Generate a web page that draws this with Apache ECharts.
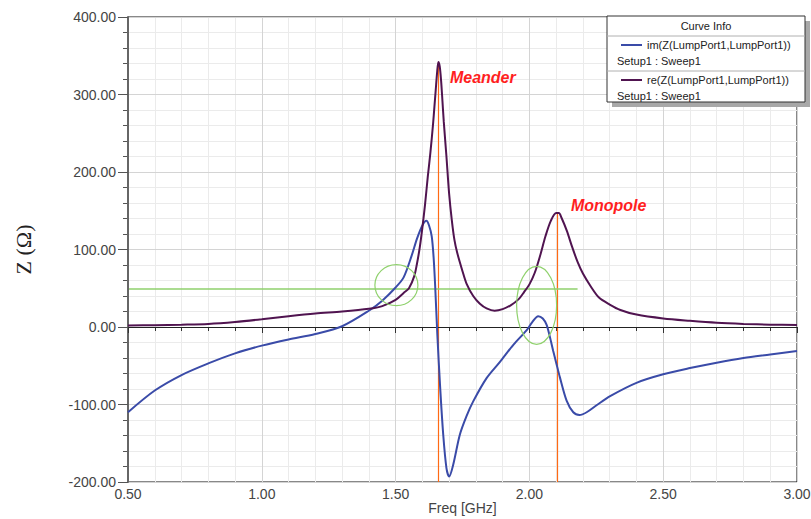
<!DOCTYPE html>
<html>
<head>
<meta charset="utf-8">
<script src="https://cdn.jsdelivr.net/npm/echarts@6/dist/echarts.min.js"></script>
<style>
  html, body { margin: 0; padding: 0; background: #fff; overflow: hidden; }
  #chart { width: 811px; height: 519px; }
</style>
</head>
<body>
<div id="chart"></div>
<script type="text/javascript">
// re(Z) - purple curve
var reFreq = [0.50, 0.60, 0.70, 0.80, 0.90, 1.00, 1.10, 1.20, 1.30, 1.40, 1.45, 1.50, 1.53, 1.55, 1.57, 1.58, 1.59, 1.60, 1.61, 1.62, 1.63, 1.64, 1.645, 1.65, 1.655, 1.66, 1.665, 1.67, 1.675, 1.68, 1.69, 1.70, 1.71, 1.72, 1.73, 1.75, 1.765, 1.79, 1.815, 1.84, 1.87, 1.90, 1.93, 1.96, 1.98, 2.00, 2.02, 2.04, 2.06, 2.08, 2.10, 2.11, 2.12, 2.14, 2.16, 2.18, 2.20, 2.23, 2.26, 2.30, 2.34, 2.40, 2.50, 2.60, 2.70, 2.80, 2.90, 3.00];
var reZ = [2, 2.3, 3, 4, 6.5, 10, 14, 17.5, 20, 23.5, 27, 35, 44, 50, 66, 82, 102, 128, 158, 193, 225, 262, 284, 306, 328, 342, 336, 318, 292, 265, 220, 172, 138, 112, 96, 72, 56, 40, 30, 24, 21, 23, 28, 36, 45, 55, 70, 92, 117, 137, 147, 147, 141, 124, 103, 84, 69, 52, 38, 29, 22, 16, 11, 8, 5.5, 4, 3, 2.5];

// im(Z) - blue curve
var imFreq = [0.50, 0.60, 0.70, 0.80, 0.90, 1.00, 1.10, 1.20, 1.30, 1.40, 1.45, 1.50, 1.53, 1.56, 1.58, 1.60, 1.615, 1.625, 1.635, 1.642, 1.648, 1.656, 1.666, 1.678, 1.690, 1.700, 1.715, 1.740, 1.765, 1.790, 1.840, 1.890, 1.940, 1.990, 2.010, 2.033, 2.050, 2.064, 2.076, 2.089, 2.100, 2.114, 2.139, 2.164, 2.187, 2.214, 2.251, 2.30, 2.40, 2.50, 2.60, 2.70, 2.80, 2.90, 3.00];
var imZ = [-110, -82, -62, -47, -34, -24, -16, -9, 1, 21, 34, 51, 64, 92, 114, 131, 137, 131, 117, 90, 52, -10, -75, -139, -182, -193, -178, -139, -115, -96, -66, -45, -23, -4, 6, 14, 11, 3, -12, -31, -46, -65, -95, -110, -113.5, -110, -101, -89.5, -72, -61, -53, -46, -40, -35.5, -31];

var curveNames = ['im(Z(LumpPort1,LumpPort1))', 're(Z(LumpPort1,LumpPort1))'];
var sweepName = 'Setup1 : Sweep1';

// annotation marks (data coords)
var resonFreq = [1.66, 2.105];
var resonPeak = [342, 147];
var refLevel = 50;
var refEnd = 2.18;
var circleCenters = [[1.503, 54], [2.027, 28]];
var annoLabels = ['Meander', 'Monopole'];
var annoPos = [[1.703, 322], [2.155, 157]];

function pairs(xs, ys) {
    var out = [];
    for (var i = 0; i < xs.length; i++) out.push([xs[i], ys[i]]);
    return out;
}
function fmt2(v) { return v.toFixed(2); }

var blue = '#3a4ba8';
var purple = '#501450';
var orange = '#ff6a14';
var green = '#8fd16c';
var labelFont = {fontFamily: 'Liberation Sans', fontSize: 14, color: '#444'};

var myChart = echarts.init(document.getElementById('chart'), null, {renderer: 'svg'});

var option = {
    animation: false,
    grid: {
        left: 128, right: 14, top: 17, bottom: 37,
        outerBoundsMode: 'none', containLabel: false,
        show: true, borderColor: '#111', borderWidth: 1
    },
    xAxis: [
        {   // major
            type: 'value', min: 0.5, max: 3.0, interval: 0.5, position: 'bottom', z: 2,
            name: 'Freq [GHz]', nameLocation: 'middle', nameGap: 19, nameMoveOverlap: false,
            nameTextStyle: labelFont,
            axisLine: {show: true, lineStyle: {color: '#222', width: 1}},
            axisTick: {show: true, inside: false, length: 6, lineStyle: {color: '#333'}},
            axisLabel: Object.assign({margin: 5, formatter: fmt2}, labelFont),
            splitLine: {show: true, lineStyle: {color: '#d4d4d4', width: 1}}
        },
        {   // minor grid
            type: 'value', min: 0.5, max: 3.0, interval: 0.1, position: 'bottom', z: 1,
            axisLine: {show: false},
            axisTick: {show: true, inside: false, length: 4, lineStyle: {color: '#333'}},
            axisLabel: {show: false},
            splitLine: {show: true, lineStyle: {color: '#ebebeb', width: 1}}
        }
    ],
    yAxis: [
        {   // major
            type: 'value', min: -200, max: 400, interval: 100, position: 'left', z: 2,
            name: 'Z (\u03A9)', nameLocation: 'middle', nameGap: 94, nameRotate: 90,
            nameTextStyle: {fontFamily: 'Liberation Serif', fontSize: 22, color: '#222'},
            axisLine: {show: true, lineStyle: {color: '#666', width: 2}},
            axisTick: {show: true, inside: false, length: 10, lineStyle: {color: '#555'}},
            axisLabel: Object.assign({margin: 12, formatter: fmt2}, labelFont),
            splitLine: {show: true, lineStyle: {color: '#d4d4d4', width: 1}}
        },
        {   // minor grid
            type: 'value', min: -200, max: 400, interval: 20, position: 'left', z: 1,
            axisLine: {show: false},
            axisTick: {show: true, inside: false, length: 5, lineStyle: {color: '#555'}},
            axisLabel: {show: false},
            splitLine: {show: true, lineStyle: {color: '#ebebeb', width: 1}}
        }
    ],
    series: [
        {
            name: curveNames[0], type: 'line', data: pairs(imFreq, imZ),
            xAxisIndex: 0, yAxisIndex: 0,
            showSymbol: false, smooth: 0.3, z: 3,
            lineStyle: {color: blue, width: 2}
        },
        {
            name: curveNames[1], type: 'line', data: pairs(reFreq, reZ),
            xAxisIndex: 0, yAxisIndex: 0,
            showSymbol: false, smooth: 0.3, z: 4,
            lineStyle: {color: purple, width: 2},
            markLine: {
                silent: true, symbol: ['none', 'none'], label: {show: false}, z: 2,
                data: [
                    [{coord: [resonFreq[0], resonPeak[0]], lineStyle: {color: orange, width: 1.2, type: 'solid'}},
                     {coord: [resonFreq[0], -200]}],
                    [{coord: [resonFreq[1], resonPeak[1]], lineStyle: {color: orange, width: 1.2, type: 'solid'}},
                     {coord: [resonFreq[1], -200]}],
                    [{coord: [0.5, refLevel], lineStyle: {color: green, width: 1.5, type: 'solid'}},
                     {coord: [refEnd, refLevel]}]
                ]
            }
        }
    ]
};
myChart.setOption(option);

// annotations and the curve info box
var gfx = [];
circleCenters.forEach(function (c, i) {
    var p = myChart.convertToPixel({xAxisIndex: 0, yAxisIndex: 0}, c);
    var r = i === 0 ? [21.5, 20.5] : [20, 39];
    gfx.push({
        type: 'ellipse', z: 10,
        shape: {cx: p[0], cy: p[1], rx: r[0], ry: r[1]},
        style: {fill: 'none', stroke: green, lineWidth: 1.2}
    });
});
annoLabels.forEach(function (t, i) {
    var p = myChart.convertToPixel({xAxisIndex: 0, yAxisIndex: 0}, annoPos[i]);
    gfx.push({
        type: 'text', z: 10, x: p[0], y: p[1],
        style: {text: t, fill: '#ff1f1f', font: 'italic bold 16px "Liberation Sans"',
                textAlign: 'left', textVerticalAlign: 'middle'}
    });
});

var bx = 607, by = 16, bw = 198, bh = 86;
gfx.push({type: 'rect', z: 20, shape: {x: bx + 5, y: by + 5, width: bw, height: bh}, style: {fill: '#a8a8a8'}});
gfx.push({type: 'rect', z: 21, shape: {x: bx, y: by, width: bw, height: bh}, style: {fill: '#fff', stroke: '#333', lineWidth: 1}});
gfx.push({type: 'text', z: 22, x: bx + bw / 2, y: 26,
    style: {text: 'Curve Info', fill: '#222', font: '11px "Liberation Sans"', textAlign: 'center', textVerticalAlign: 'middle'}});
gfx.push({type: 'line', z: 22, shape: {x1: bx, y1: 36, x2: bx + bw, y2: 36}, style: {stroke: '#b0b0b0', lineWidth: 1}});
gfx.push({type: 'line', z: 22, shape: {x1: bx, y1: 71, x2: bx + bw, y2: 71}, style: {stroke: '#b0b0b0', lineWidth: 1}});
[[blue, 45, 61], [purple, 80, 96]].forEach(function (row, i) {
    gfx.push({type: 'line', z: 22, shape: {x1: 621, y1: row[1], x2: 642, y2: row[1]}, style: {stroke: row[0], lineWidth: 2}});
    gfx.push({type: 'text', z: 22, x: 647, y: row[1],
        style: {text: curveNames[i], fill: '#222', font: '11px "Liberation Sans"', textAlign: 'left', textVerticalAlign: 'middle'}});
    gfx.push({type: 'text', z: 22, x: 617, y: row[2],
        style: {text: sweepName, fill: '#222', font: '11px "Liberation Sans"', textAlign: 'left', textVerticalAlign: 'middle'}});
});
myChart.setOption({graphic: gfx});
</script>
</body>
</html>
